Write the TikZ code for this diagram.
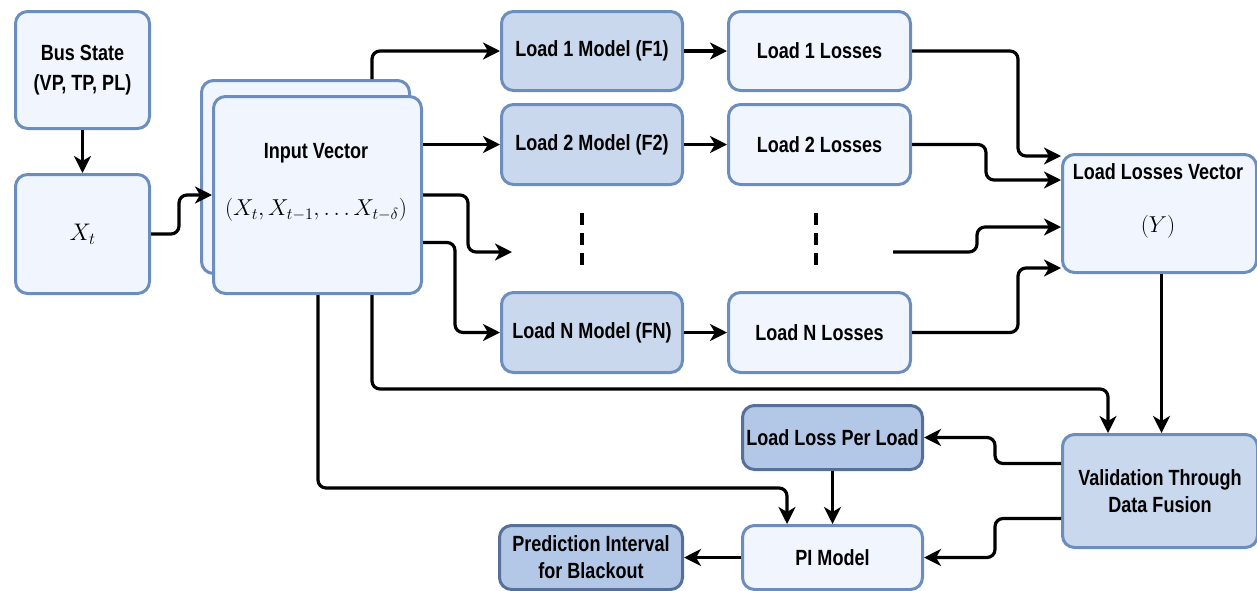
\RequirePackage{fix-cm}
\documentclass[tikz,border=0pt]{standalone}
\usepackage[no-math]{fontspec}
\newfontfamily\lab[FakeStretch=0.82]{Liberation Sans}
\usetikzlibrary{arrows.meta}
\definecolor{boxfill}{HTML}{F0F5FE}
\definecolor{modfill}{HTML}{C9D8EC}
\definecolor{darkfill}{HTML}{B3C8E7}
\definecolor{boxline}{HTML}{6C8EBF}
\definecolor{darkline}{HTML}{56709A}
\tikzset{
  box/.style={draw=boxline, fill=boxfill, line width=3pt, rounded corners=12pt,
    anchor=north west, inner sep=2pt, align=center,
    font=\lab\bfseries\fontsize{22}{27}\selectfont},
  modbox/.style={box, fill=modfill},
  darkbox/.style={box, fill=darkfill, draw=darkline},
  lbl/.style={font=\lab\bfseries\fontsize{22}{27}\selectfont, inner sep=0pt},
  mth/.style={font=\fontsize{23}{24}\selectfont, inner sep=0pt},
  arr/.style={draw=black, line width=3.2pt, rounded corners=8pt,
    -{Stealth[length=17pt, width=17pt, inset=5pt]}},
  dotline/.style={draw=black, line width=3.2pt, dash pattern=on 12pt off 8pt}
}
\begin{document}
\begin{tikzpicture}[x=1pt, y=-1pt]
\useasboundingbox (0,0) rectangle (1257,590);

% input side
\node[box, minimum width=134pt, minimum height=117pt] (bus) at (14,10)
  {Bus State\\[3pt](VP, TP, PL)};
\node[box, minimum width=134pt, minimum height=119pt, font=\fontsize{24}{24}\selectfont] (xt) at (14,173) {$X_t$};
\node[box, minimum width=208pt, minimum height=193pt] (inB) at (200,79) {};
\node[box, minimum width=208pt, minimum height=197pt] (inF) at (212,95) {};
\node[lbl] (inT) at (316,153) {Input Vector};
\node[mth] (inM) at (316,210) {$(X_t, X_{t-1}, \ldots X_{t-\delta})$};

% per-load models and losses
\node[modbox, minimum width=181pt, minimum height=79pt] (m1) at (500,10) {Load 1 Model (F1)};
\node[box, minimum width=182pt, minimum height=79pt] (l1) at (727,10) {Load 1 Losses};
\node[modbox, minimum width=181pt, minimum height=80pt] (m2) at (500,103) {Load 2 Model (F2)};
\node[box, minimum width=182pt, minimum height=80pt] (l2) at (727,103) {Load 2 Losses};
\node[modbox, minimum width=181pt, minimum height=80pt] (mN) at (500,291) {Load N Model (FN)};
\node[box, minimum width=182pt, minimum height=80pt] (lN) at (727,291) {Load N Losses};

\draw[dotline] (582,213) -- (582,272);
\draw[dotline] (816,213) -- (816,272);
\coordinate (dotsin) at (512,252);
\coordinate (dotsout) at (893,252);

% fusion side
\node[box, minimum width=194pt, minimum height=118pt] (llv) at (1061,153) {};
\node[lbl] (llvT) at (1158,172) {Load Losses Vector};
\node[mth] (llvM) at (1158,227) {$(Y)$};
\node[modbox, minimum width=195pt, minimum height=113pt] (val) at (1061,433)
  {Validation Through\\Data Fusion};
\node[darkbox, minimum width=180pt, minimum height=64pt] (lpl) at (741,404) {Load Loss Per Load};
\node[box, minimum width=180pt, minimum height=64pt] (pi) at (741,524) {PI Model};
\node[darkbox, minimum width=183pt, minimum height=64pt] (pred) at (498,524)
  {Prediction Interval\\for Blackout};

% connectors
\draw[arr] (bus.south) -- (xt.north);
\draw[arr] (xt.east) -- ++(28,0) |- (inF.west);
\draw[arr] ([xshift=172pt]inB.north west) |- (m1.west);
\draw[arr] (inF.east |- m2.west) -- (m2.west);
\draw[arr] (inF.east) -- ++(45,0) |- (dotsin);
\draw[arr] ([yshift=-47.5pt]inF.east) -- ++(32,0) |- (mN.west);

\draw[arr] (m1.east) -- (l1.west);
\draw[arr] (m2.east) -- (l2.west);
\draw[arr] (mN.east) -- (lN.west);

\draw[arr] (l1.east) -- ++(106,0) |- ([yshift=-3pt]llv.north west);
\draw[arr] (l2.east) -- ++(74,0) |- ([yshift=-27pt]llv.north west);
\draw[arr] (dotsout) -- ++(84,0) |- ([yshift=-74pt]llv.north west);
\draw[arr] (lN.east) -- ++(106,0) |- ([yshift=-115pt]llv.north west);

\draw[arr] ([xshift=2pt]llv.south) -- ([xshift=1.5pt]val.north);
\draw[arr] ([xshift=160pt]inF.south west) |- ([xshift=47pt, yshift=44pt]val.north west)
  -- ([xshift=47pt]val.north west);
\draw[arr] ([xshift=106pt]inF.south west) |- ([xshift=46pt, yshift=36pt]pi.north west)
  -- ([xshift=46pt]pi.north west);

\draw[arr] ([yshift=27.5pt]val.west) -- ++(-66,0) |- (lpl.east);
\draw[arr] ([yshift=-27.5pt]val.west) -- ++(-66,0) |- (pi.east);
\draw[arr] (lpl.south) -- (pi.north);
\draw[arr] (pi.west) -- (pred.east);
\end{tikzpicture}
\end{document}
